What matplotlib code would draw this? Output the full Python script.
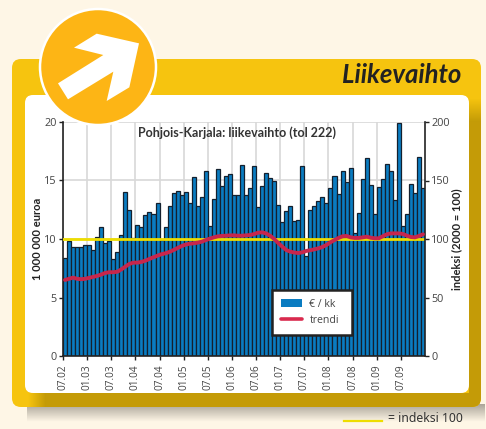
import numpy as np
import matplotlib
matplotlib.use('Agg')
import matplotlib.pyplot as plt
from matplotlib.patches import FancyBboxPatch, Circle, Polygon
from matplotlib.lines import Line2D

plt.rcParams['font.family'] = ['Open Sans', 'DejaVu Sans']

# euro / kk, 07.02 ... 12.09
sales = [8.35, 9.8, 9.35, 9.35, 9.35, 9.45, 9.5, 9.05, 10.15, 11.0, 9.65, 9.8,
         8.3, 8.9, 10.35, 14.05, 12.45, 10.1, 11.2, 11.0, 12.05, 12.3, 12.1, 13.05,
         9.9, 11.0, 12.85, 13.95, 14.1, 13.8, 14.0, 13.1, 15.3, 12.8, 13.55, 15.8,
         11.1, 13.45, 15.95, 14.5, 15.35, 15.55, 13.75, 13.8, 16.35, 13.75, 14.4, 16.25,
         12.7, 14.55, 15.65, 15.25, 14.95, 12.9, 11.45, 12.4, 12.85, 11.5, 11.65, 16.2,
         8.55, 12.45, 12.8, 13.25, 13.55, 13.1, 14.4, 15.35, 13.85, 15.85, 14.9, 16.1,
         10.55, 12.25, 15.15, 16.9, 14.65, 12.1, 14.45, 15.1, 16.45, 15.8, 13.3, 19.9,
         11.1, 12.1, 14.7, 13.9, 17.05, 14.4]
trend = [65, 66, 67, 66, 65.6, 66, 66.8, 67.6, 68.5, 69.6, 71, 71.6,
         71.6, 72, 74, 76.4, 78.7, 79.8, 79.8, 80.4, 81.5, 83, 84.4, 85.8,
         87, 87.8, 89, 90.6, 92.3, 94, 95.2, 96, 96.3, 96.9, 97.7, 99.1,
         100.3, 101.4, 102.3, 102.6, 102.8, 103.1, 103.1, 102.8, 102.8, 103.1, 103.4, 104.2,
         105.4, 105.7, 104.8, 102.8, 100, 96.6, 93.5, 90.6, 89.2, 88.4, 88, 88.6,
         89.8, 90.4, 91.2, 92, 93.2, 94.9, 97.2, 99.1, 100.9, 102.3, 102.6, 101.4,
         100.9, 100.9, 101.4, 102, 101.1, 100.6, 100.6, 102.3, 104, 104.8, 104.8, 104.8,
         104.3, 102.8, 101.7, 101.4, 102.6, 104]
tick_labels = ['07.02', '01.03', '07.03', '01.04', '07.04', '01.05', '07.05', '01.06',
               '07.06', '01.07', '07.07', '01.08', '07.08', '01.09', '07.09']
left_ticks = [0, 5, 10, 15, 20]
right_ticks = [0, 50, 100, 150, 200]

W, H = 486, 429
DARK = (0xC4 / 255, 0x9B / 255, 0x07 / 255)
fig = plt.figure(figsize=(W / 100, H / 100), dpi=100, facecolor='#FEF6E6')

# background layer in pixel coordinates
bg = fig.add_axes([0, 0, 1, 1], zorder=0)

def rbox(ax, x0, y0, x1, y1, r, color, z):
    p = FancyBboxPatch((x0 + r, y0 + r), x1 - x0 - 2 * r, y1 - y0 - 2 * r,
                       boxstyle='round,pad=%d,rounding_size=%d' % (r, r),
                       fc=color, ec='none', zorder=z)
    ax.add_patch(p)
    return p

# soft fade, used for the shadows
def fade(ax, extent, a0, a1, color, z, vertical=True):
    rgba = np.zeros((24, 24, 4))
    rgba[..., 0:3] = color
    ramp = np.linspace(a0, a1, 24)
    rgba[..., 3] = ramp[:, None] if vertical else ramp[None, :]
    return ax.imshow(rgba, extent=extent, aspect='auto', zorder=z)

# first row of the ramp sits at the last number of extent
fade(bg, [27, 484, 422, 404], 0.5, 0.0, (0.35, 0.33, 0.3), 1)
card = rbox(bg, 12, 59, 481, 407, 9, '#F6C40F', 2)
dark = Polygon([(469, 122), (481, 122), (481, 407), (46, 407), (46, 393), (469, 393)],
               fc='#C49B07', ec='none', zorder=3)
bg.add_patch(dark)
dark.set_clip_path(card)
top_fade = fade(bg, [469, 481, 122, 98], 0.0, 1.0, DARK, 3)
top_fade.set_clip_path(card)
left_fade = fade(bg, [28, 46, 407, 393], 0.0, 1.0, DARK, 3, vertical=False)
left_fade.set_clip_path(card)
rbox(bg, 25, 95, 469, 393, 8, 'white', 4)
bg.set_xlim(0, W)
bg.set_ylim(H, 0)
bg.axis('off')

bg.text(461, 75, 'Liikevaihto', ha='right', va='center', fontsize=18.5, family='Lato',
        fontweight='bold', fontstyle='italic', color='#222222', zorder=5)

# footer key
bg.add_line(Line2D([344, 382], [421, 421], color='#EEDD00', lw=1.6, zorder=5))
bg.text(388, 419, '= indeksi 100', ha='left', va='center', fontsize=8.8, family='Noto Sans',
        color='#333333', zorder=5)

# main chart
ax = fig.add_axes([63 / W, 1 - 356 / H, (425 - 63) / W, (356 - 122) / H], zorder=2)
ax.patch.set_alpha(0)
x = np.arange(len(sales)) + 0.5
ax.bar(x, sales, width=1.0, color='#0A7CC1', edgecolor='#14202E', linewidth=0.9, zorder=2)
ax.set_xlim(0, len(sales))
ax.set_ylim(0, 20)
ax.set_xticks(np.arange(len(tick_labels)) * 6)
ax.set_xticklabels(tick_labels, rotation=90, fontsize=7.2, color='#444444')
ax.set_yticks(left_ticks)
ax.tick_params(axis='y', labelsize=7.8, labelcolor='#444444', length=3, width=1, pad=1.5, color='#222222')
ax.tick_params(axis='x', length=3, width=1, pad=3, color='#222222')
ax.grid(True, color='#D8D8D8', lw=1.2, zorder=0)
ax.set_axisbelow(True)
for s in ['top', 'right']:
    ax.spines[s].set_visible(False)
for s in ['left', 'bottom']:
    ax.spines[s].set_color('#222222')
    ax.spines[s].set_linewidth(1.2)
ax.set_ylabel('1 000 000 euroa', fontsize=8, fontweight='bold', family='Lato', color='#222222', labelpad=1)
ax.text(0.482, 0.953, 'Pohjois-Karjala: liikevaihto (tol 222)', transform=ax.transAxes,
        ha='center', va='center', fontsize=9, fontweight='bold', family='Lato', color='#333333', zorder=6)
ax.axhline(10, color='#EEDD00', lw=2, zorder=3)

ax2 = ax.twinx()
ax2.set_ylim(0, 200)
ax2.set_yticks(right_ticks)
ax2.tick_params(axis='y', labelsize=7.8, labelcolor='#444444', length=3, width=1, pad=1.5, color='#222222')
for s in ['top', 'left', 'bottom']:
    ax2.spines[s].set_visible(False)
ax2.spines['right'].set_color('#222222')
ax2.spines['right'].set_linewidth(1.2)
ax2.set_ylabel('indeksi (2000 = 100)', fontsize=8, fontweight='bold', family='Lato', color='#222222', labelpad=1)
line, = ax2.plot(x, trend, color='#C8264C', lw=2.8, solid_capstyle='round', zorder=4)

handles = [plt.Rectangle((0, 0), 1, 1, fc='#0A7CC1', ec='none'),
           Line2D([], [], color='#D92A4E', lw=2.6, solid_capstyle='round')]
leg = ax2.legend(handles, ['€ / kk', 'trendi'], loc='lower left',
                 bbox_to_anchor=((272 - 63) / 362, (356 - 335) / 234, 80 / 362, 44 / 234),
                 mode='expand', borderaxespad=0, fontsize=7.6, fancybox=False, framealpha=1,
                 edgecolor='#222222', labelcolor='#444444', handlelength=2.0,
                 handletextpad=0.7, labelspacing=0.5, borderpad=0.85)
leg.get_frame().set_linewidth(1.8)
leg.set_zorder(10)

# arrow badge on top of everything
top = fig.add_axes([0, 0, 1, 1], zorder=5)
top.set_xlim(0, W)
top.set_ylim(H, 0)
top.axis('off')
top.patch.set_alpha(0)
top.add_patch(Circle((98, 67), 58, fc='#FDB515', ec='white', lw=1.8))
top.add_patch(Polygon(np.array([(222, 143), (290, 101), (417, 130), (388, 262), (320, 303),
                                (340, 215), (204, 298), (174, 250), (310, 165)]) / 3,
                      fc='white', ec='none'))

fig.savefig('out.png', dpi=100, facecolor=fig.get_facecolor())
